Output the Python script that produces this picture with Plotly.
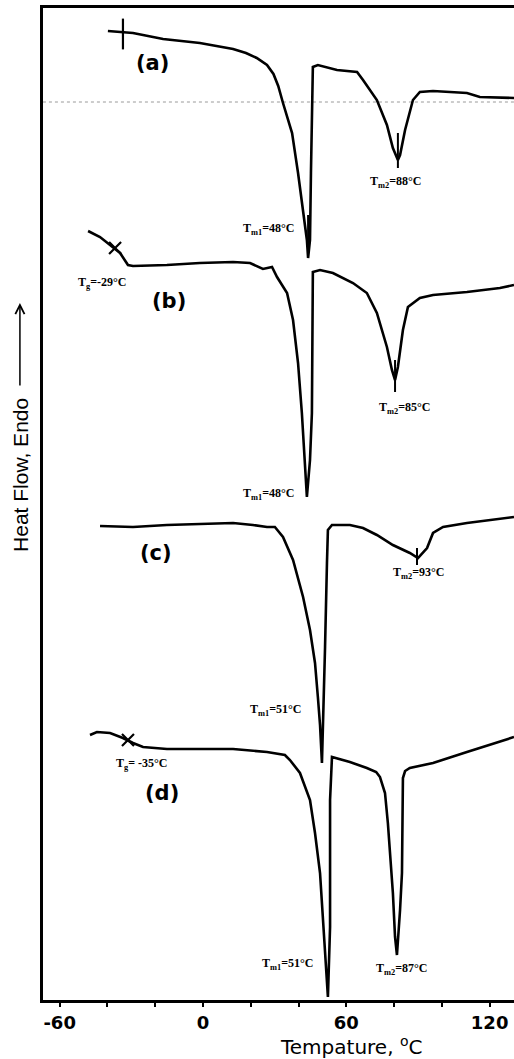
import plotly.graph_objects as go

# DSC heating scans (a)-(d), temperature in degC, heat flow in arbitrary units (endo up)
temp_a = [-39.8, -33.5, -29.3, -16.7, -1.3, 12.6, 18.0, 22.5, 26.8, 29.5, 31.5, 33.5, 37.3, 39.8,
          41.9, 43.5, 44.0, 44.8, 45.2, 45.6, 46.0, 48.1, 56.1, 64.5, 67.0, 72.8, 77.0, 79.5, 81.6,
          82.5, 84.6, 87.9, 90.8, 96.3, 110.5, 115.9, 130.2]
heat_a = [96.9, 96.8, 96.7, 96.1, 95.7, 95.1, 94.7, 94.2, 93.5, 92.6, 91.4, 89.7, 86.7, 82.7,
          78.7, 76.0, 74.2, 76.0, 82.7, 89.3, 93.3, 93.5, 93.0, 92.8, 92.0, 90.0, 87.5, 85.2, 84.0,
          84.5, 87.0, 90.0, 90.8, 90.9, 90.7, 90.3, 90.2]

temp_b = [-48.1, -43.1, -38.9, -34.7, -31.4, -29.3, -15.1, -1.3, 12.6, 19.7, 25.1, 28.9, 31.0, 35.2,
          37.7, 39.8, 41.4, 42.7, 43.5, 44.8, 45.6, 46.0, 49.0, 54.4, 62.8, 68.6, 72.8, 77.0, 79.1,
          80.4, 81.6, 83.7, 85.8, 90.8, 96.3, 110.5, 124.3, 130.2]
heat_b = [76.9, 76.3, 75.5, 74.7, 73.5, 73.4, 73.5, 73.7, 73.8, 73.7, 73.1, 73.3, 72.3, 70.7,
          68.0, 63.7, 58.7, 54.0, 50.3, 54.0, 58.7, 72.8, 73.0, 72.7, 71.7, 70.7, 68.7, 65.3, 63.0,
          62.0, 63.3, 67.0, 69.3, 70.2, 70.5, 70.8, 71.2, 71.5]

temp_c = [-43.1, -29.3, -15.1, -1.3, 12.6, 20.9, 26.8, 30.1, 33.5, 37.7, 41.9, 44.8, 46.9, 48.1,
          49.0, 49.8, 50.2, 51.1, 51.9, 52.3, 54.0, 61.5, 67.0, 72.8, 79.5, 86.6, 90.0, 93.8, 96.3,
          100.5, 110.5, 124.3, 130.2]
heat_c = [47.4, 47.3, 47.5, 47.6, 47.7, 47.5, 47.3, 47.3, 46.3, 44.0, 40.3, 37.0, 33.7, 30.3,
          27.5, 23.7, 27.0, 35.3, 43.7, 47.0, 47.5, 47.5, 47.2, 46.5, 45.5, 44.7, 44.2, 45.2, 46.7,
          47.3, 47.7, 48.1, 48.3]

temp_d = [-47.3, -44.4, -38.9, -33.5, -29.3, -25.1, -15.1, -1.3, 12.6, 26.8, 34.3, 36.4, 40.6, 44.8,
          46.9, 49.0, 51.1, 52.3, 53.2, 53.2, 54.0, 61.5, 68.6, 72.5, 74.1, 76.2, 77.4, 79.1, 79.5,
          80.4, 81.2, 82.5, 83.3, 83.7, 84.6, 86.6, 96.3, 110.5, 124.3, 130.2]
heat_d = [26.5, 26.8, 26.7, 26.2, 25.7, 25.3, 25.1, 25.1, 25.1, 24.8, 24.5, 24.0, 22.7, 20.0,
          16.7, 12.7, 4.0, 0.3, 7.3, 20.0, 24.3, 23.8, 23.2, 22.8, 22.3, 20.7, 17.7, 12.7, 10.7,
          6.3, 4.5, 9.0, 12.7, 22.2, 22.9, 23.2, 23.7, 24.8, 25.8, 26.3]

curves = [(temp_a, heat_a), (temp_b, heat_b), (temp_c, heat_c), (temp_d, heat_d)]

# Tg marks on curves (b) and (d), and the vertical "+" on (a)
tg_temp = [-36.8, -31.4]
tg_heat = [75.2, 26.0]
tg_a_temp = [-33.5]
tg_a_heat = [96.6]

# short vertical ticks marking peak temperatures
peak_tick_temp = [44.0, 81.6, 80.4, 89.6]
peak_tick_lo = [75.5, 83.2, 60.8, 43.5]
peak_tick_hi = [78.5, 86.7, 64.0, 45.2]

# faint dotted guide line seen in the scan
guide_heat = 89.8

x_tickvals = [-60, 0, 60, 120]
x_ticktext = ["-60", "0", "60", "120"]

# labels: (text, temp, heat)
curve_labels = [("(a)", -21.3, 93.7), ("(b)", -14.2, 69.9), ("(c)", -19.7, 44.7), ("(d)", -17.2, 20.7)]
temp_labels = [
    ("T<sub>m2</sub>=88°C", 80.8, 81.8),
    ("T<sub>m1</sub>=48°C", 27.6, 77.1),
    ("T<sub>g</sub>=-29°C", -41.9, 71.7),
    ("T<sub>m2</sub>=85°C", 84.6, 59.2),
    ("T<sub>m1</sub>=48°C", 27.6, 50.6),
    ("T<sub>m2</sub>=93°C", 90.4, 42.7),
    ("T<sub>m1</sub>=51°C", 30.6, 29.0),
    ("T<sub>g</sub>= -35°C", -25.5, 23.6),
    ("T<sub>m1</sub>=51°C", 35.6, 3.6),
    ("T<sub>m2</sub>=87°C", 83.3, 3.1),
]

fig = go.Figure()

fig.add_trace(go.Scatter(x=[-67.0, 130.2], y=[guide_heat, guide_heat], mode="lines",
                         line=dict(color="#9a9a9a", width=1, dash="dot"), hoverinfo="skip"))

for t, h in curves:
    fig.add_trace(go.Scatter(x=t, y=h, mode="lines", line=dict(color="black", width=2.6)))

# peak ticks as segments
px_, py_ = [], []
for t, lo, hi in zip(peak_tick_temp, peak_tick_lo, peak_tick_hi):
    px_ += [t, t, None]
    py_ += [lo, hi, None]
fig.add_trace(go.Scatter(x=px_, y=py_, mode="lines", line=dict(color="black", width=2)))

fig.add_trace(go.Scatter(x=tg_temp, y=tg_heat, mode="markers",
                         marker=dict(symbol="x-thin", size=12, line=dict(color="black", width=2.2))))
fig.add_trace(go.Scatter(x=tg_a_temp, y=tg_a_heat, mode="markers",
                         marker=dict(symbol="line-ns", size=22, line=dict(color="black", width=2.2))))

for txt, t, h in curve_labels:
    fig.add_annotation(x=t, y=h, text=txt, showarrow=False,
                       font=dict(family="DejaVu Sans", size=21, color="black", weight="bold"))

for txt, t, h in temp_labels:
    fig.add_annotation(x=t, y=h, text=txt, showarrow=False,
                       font=dict(family="Liberation Serif", size=12, color="black", weight="bold"))

# y title with its arrow
fig.add_annotation(xref="paper", yref="y", x=-0.049, y=52.5, text="Heat Flow, Endo", textangle=-90,
                   xanchor="center", yanchor="middle", showarrow=False,
                   font=dict(family="Liberation Sans", size=21, color="black"))
fig.add_annotation(xref="paper", yref="y", x=-0.049, y=69.7, ax=0, ay=84, text="",
                   showarrow=True, arrowhead=5, arrowsize=1.2, arrowwidth=1.5, arrowcolor="black")

fig.add_annotation(xref="paper", yref="paper", x=0.654, y=-0.046, text="Tempature, <sup>o</sup>C",
                   xanchor="center", yanchor="middle", showarrow=False,
                   font=dict(family="DejaVu Sans", size=20, color="black"))

fig.update_layout(
    width=514, height=1059,
    margin=dict(l=43, r=0, t=8, b=59),
    paper_bgcolor="white", plot_bgcolor="white",
    showlegend=False,
    xaxis=dict(range=[-66.97, 130.2], showline=True, linewidth=3, linecolor="black", mirror=True,
               ticks="outside", ticklen=4, tickwidth=2, tickcolor="black",
               tickvals=x_tickvals, ticktext=x_ticktext, showgrid=False, zeroline=False,
               minor=dict(tickvals=[-40, -20, 20, 40, 80, 100], ticks="outside", ticklen=4,
                          tickwidth=2, tickcolor="black", showgrid=False),
               tickfont=dict(family="DejaVu Sans", size=18, color="black", weight="bold")),
    yaxis=dict(range=[0, 99.2], showline=True, linewidth=3, linecolor="black", mirror=False,
               showticklabels=False, ticks="", showgrid=False, zeroline=False),
)

fig.write_html("out.html", config={"displayModeBar": False},
               post_script="document.body.style.margin='0';document.body.style.overflow='hidden';")
